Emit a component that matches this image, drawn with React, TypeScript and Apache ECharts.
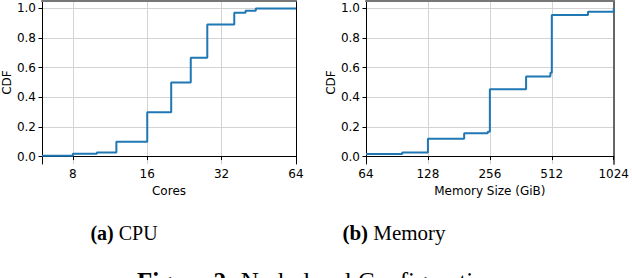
import React, { useEffect, useRef } from "react";
import * as echarts from "echarts";

// CPU cores CDF (step points: value after the jump)
const cpuCores = [6, 8, 10, 12, 16, 20, 24, 28, 36, 40, 44, 64];
const cpuCdf = [0.005, 0.02, 0.027, 0.1, 0.3, 0.5, 0.667, 0.892, 0.97, 0.985, 1.0, 1.0];

// Memory size CDF (GiB)
const memSize = [64, 96, 128, 192, 250, 256, 384, 504, 512, 768, 1024];
const memCdf = [0.018, 0.028, 0.12, 0.157, 0.168, 0.455, 0.54, 0.566, 0.955, 0.977, 1.0];

const cpuTicks = [8, 16, 32, 64];
const memTicks = [64, 128, 256, 512, 1024];
const yTicks = [0, 0.2, 0.4, 0.6, 0.8, 1.0];

const SANS = "DejaVu Sans";
const SERIF = "Liberation Serif";

export default function App() {
  const ref = useRef<HTMLDivElement>(null);
  useEffect(() => {
    document.body.style.margin = "0";
    const chart = echarts.init(ref.current!, null, { renderer: "svg" });
    const labelStyle = { fontSize: 12, fontFamily: SANS, color: "#000" };
    const splitLine = { show: true, lineStyle: { color: "#d3d3d3", width: 1 } };
    const mkX = (gi: number, min: number, max: number, ticks: number[], name: string) => ({
      gridIndex: gi,
      type: "log",
      logBase: 2,
      min,
      max,
      position: "bottom",
      name,
      nameLocation: "middle",
      nameGap: 17,
      nameTextStyle: labelStyle,
      axisLine: { show: true, lineStyle: { color: "#000", width: 1 } },
      axisTick: { show: true, length: 3.5, customValues: ticks, lineStyle: { color: "#000", width: 1 } },
      axisLabel: { ...labelStyle, margin: 4, customValues: ticks, formatter: (v: number) => String(Math.round(v)) },
      splitLine,
      minorTick: { show: false },
      minorSplitLine: { show: false },
    });
    const mkTop = (gi: number) => ({
      gridIndex: gi,
      type: "value",
      position: "top",
      axisLine: { show: true, onZero: false, lineStyle: { color: "#777", width: 2 } },
      axisTick: { show: false },
      axisLabel: { show: false },
      splitLine: { show: false },
    });
    const mkY = (gi: number) => ({
      gridIndex: gi,
      type: "value",
      min: -0.05,
      max: 1.05,
      position: "left",
      name: "CDF",
      nameLocation: "middle",
      nameGap: 29,
      nameTextStyle: labelStyle,
      axisLine: { show: true, onZero: false, lineStyle: { color: "#000", width: 1 } },
      axisTick: { show: true, length: 3.5, customValues: yTicks, lineStyle: { color: "#000", width: 1 } },
      axisLabel: { ...labelStyle, margin: 6, customValues: yTicks, formatter: (v: number) => v.toFixed(1) },
      splitLine,
    });
    const mkRight = (gi: number, color: string, width: number) => ({
      gridIndex: gi,
      type: "value",
      position: "right",
      axisLine: { show: true, onZero: false, lineStyle: { color, width } },
      axisTick: { show: false },
      axisLabel: { show: false },
      splitLine: { show: false },
    });
    const lineStyle = { color: "#1f77b4", width: 2 };
    chart.setOption({
      animation: false,
      grid: [
        { left: 38, right: 336, top: 1, height: 163, containLabel: false },
        { left: 366, right: 16, top: 1, height: 163, containLabel: false },
      ],
      xAxis: [
        mkX(0, 6, 64, cpuTicks, "Cores"),
        mkX(1, 64, 1024, memTicks, "Memory Size (GiB)"),
        mkTop(0),
        mkTop(1),
      ],
      yAxis: [mkY(0), mkY(1), mkRight(0, "#000", 1), mkRight(1, "#666", 2)],
      series: [
        {
          type: "line",
          xAxisIndex: 0,
          yAxisIndex: 0,
          step: "end",
          symbol: "none",
          lineStyle,
          data: cpuCores.map((c, i) => [c, cpuCdf[i]]),
        },
        {
          type: "line",
          xAxisIndex: 1,
          yAxisIndex: 1,
          step: "end",
          symbol: "none",
          lineStyle,
          data: memSize.map((m, i) => [m, memCdf[i]]),
        },
      ],
      graphic: [
        {
          type: "text",
          x: 124,
          y: 233,
          style: {
            text: "{b|(a)} CPU",
            fontFamily: SERIF,
            fontSize: 20,
            fill: "#000",
            align: "center",
            verticalAlign: "middle",
            rich: { b: { fontWeight: "bold", fontFamily: SERIF, fontSize: 20 } },
          },
        },
        {
          type: "text",
          x: 394,
          y: 233,
          style: {
            text: "{b|(b)} Memory",
            fontFamily: SERIF,
            fontSize: 21,
            fill: "#000",
            align: "center",
            verticalAlign: "middle",
            rich: { b: { fontWeight: "bold", fontFamily: SERIF, fontSize: 21 } },
          },
        },
        {
          type: "text",
          x: 137,
          y: 294,
          style: {
            text: "{b|Figure 2:} Node-level Configurations",
            fontFamily: SERIF,
            fontSize: 25,
            fill: "#000",
            align: "left",
            verticalAlign: "bottom",
            rich: { b: { fontWeight: "bold", fontFamily: SERIF, fontSize: 25 } },
          },
        },
      ],
    });
    return () => chart.dispose();
  }, []);
  return <div ref={ref} style={{ width: 632, height: 278 }} />;
}
